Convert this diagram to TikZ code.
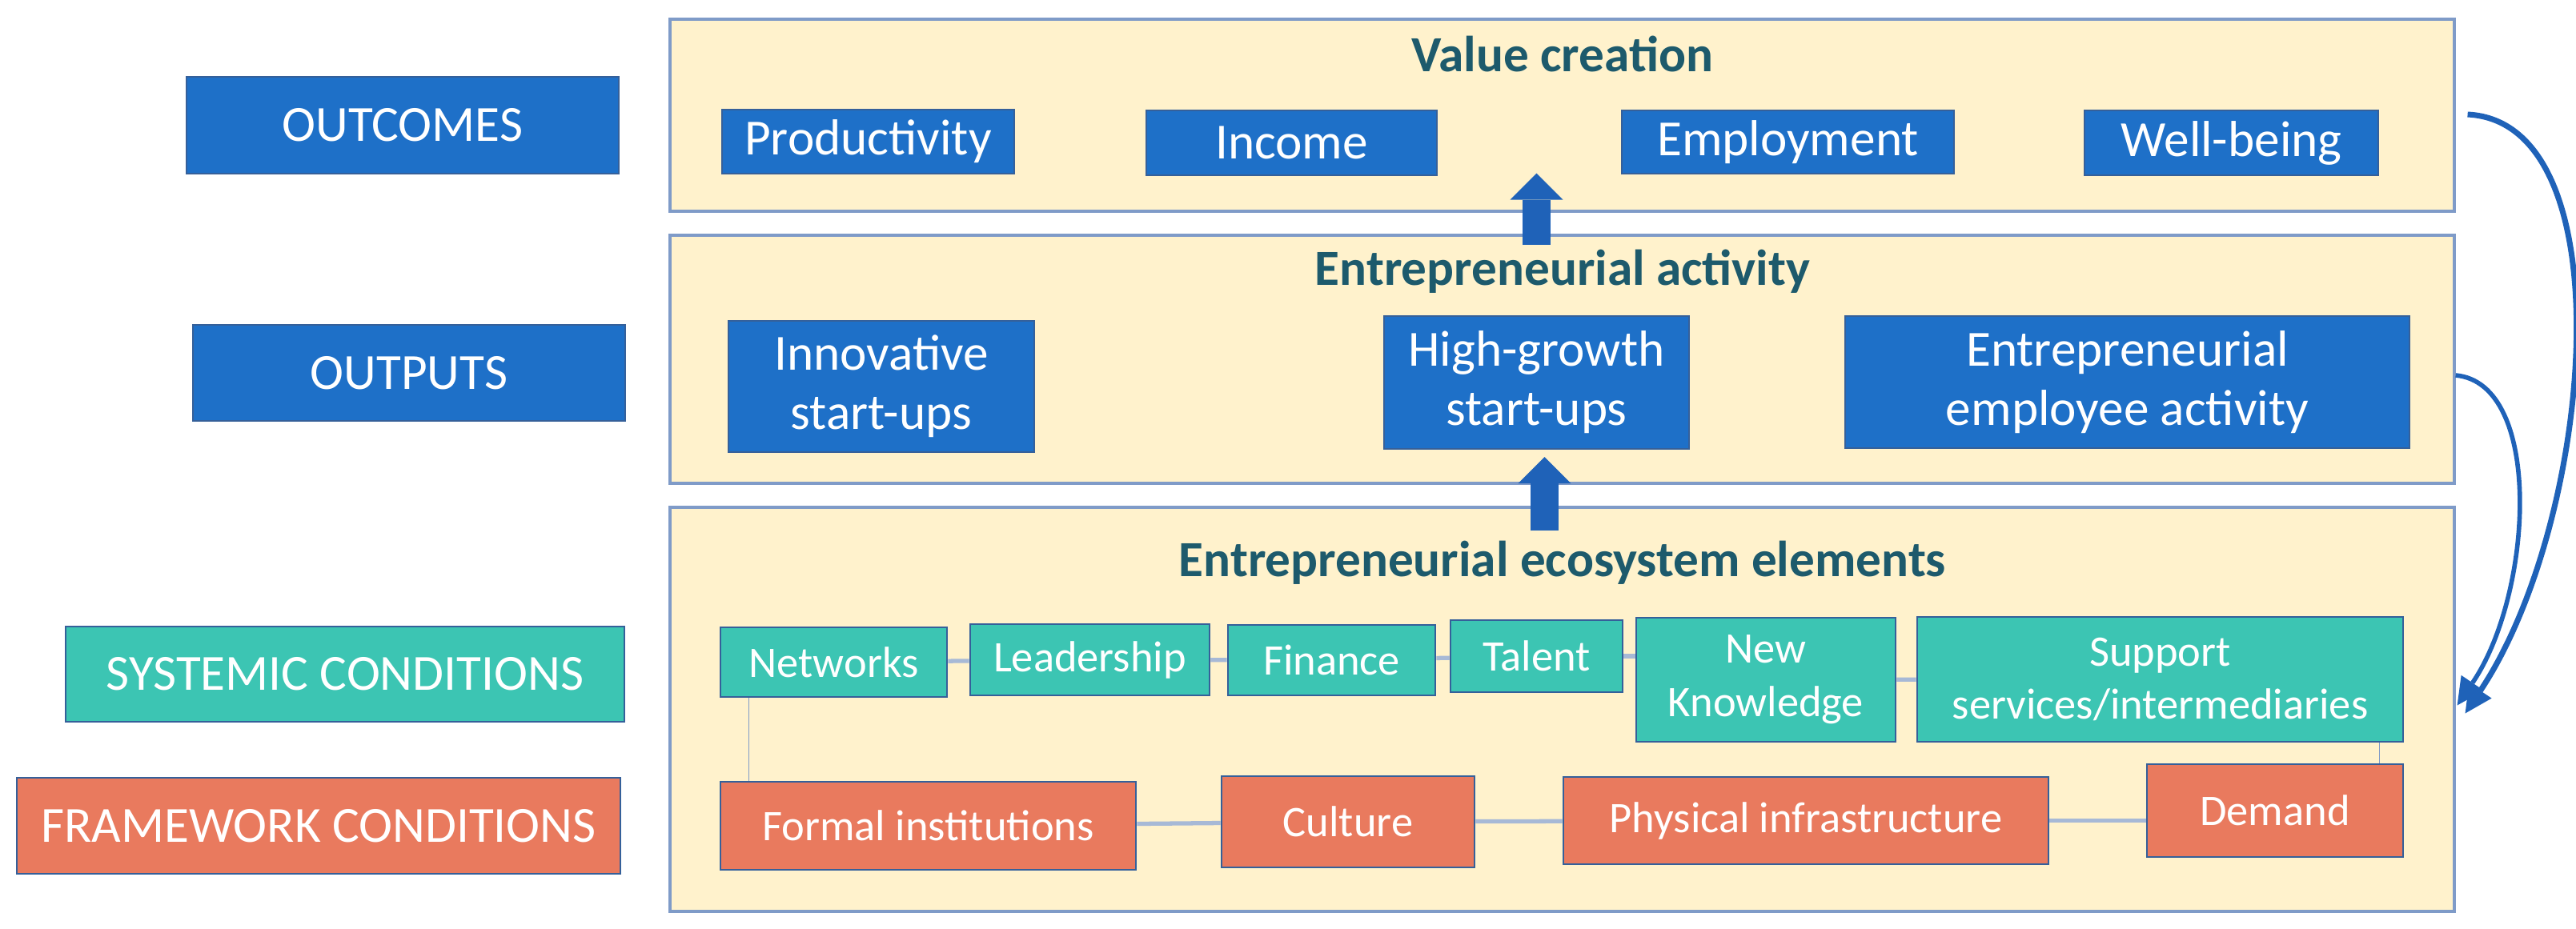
\documentclass[tikz,border=0pt]{standalone}
\usepackage{fontspec}
\setmainfont{Carlito}
\usetikzlibrary{calc,arrows.meta}

\definecolor{boxblue}{HTML}{1E70C8}
\definecolor{boxteal}{HTML}{3CC5B3}
\definecolor{boxsalmon}{HTML}{E97A5E}
\definecolor{boxline}{HTML}{35609A}
\definecolor{panelfill}{HTML}{FFF2CC}
\definecolor{panelline}{HTML}{7F9BC8}
\definecolor{headtext}{HTML}{1D5A6C}
\definecolor{linkgray}{HTML}{A7B9D6}
\definecolor{arrowblue}{HTML}{1F62B8}

\begin{document}
\begin{tikzpicture}[
	panel/.style={draw=panelline, line width=0.9pt, fill=panelfill, minimum width=22.29cm, inner sep=0pt},
	label/.style={text=white, inner sep=0pt, align=center, font=\fontsize{18}{21}\selectfont},
	bluebox/.style={label, fill=boxblue, draw=boxline, line width=0.6pt},
	tealbox/.style={label, fill=boxteal, draw=boxline, line width=0.8pt, font=\fontsize{15.5}{19}\selectfont},
	salmonbox/.style={label, fill=boxsalmon, draw=boxline, line width=0.8pt, font=\fontsize{15.5}{19}\selectfont},
	heading/.style={text=headtext, anchor=base, font=\bfseries\fontsize{18}{21}\selectfont},
	link/.style={draw=linkgray, line width=1.5pt},
	droplink/.style={draw=panelline, line width=0.5pt},
	blockarrow/.style={draw=arrowblue, line width=3.5mm, -{Triangle[width=6.6mm,length=3.3mm,line width=0pt]}},
	feedback/.style={draw=arrowblue, line width=2pt, -{Triangle[width=3.4mm,length=3.4mm,line width=0pt]}}
	]

	\useasboundingbox (0,0) rectangle (32.18,-11.60);

	% levels on the left
	\node[bluebox, minimum width=5.40cm, minimum height=1.21cm] (outcomes) at (5.03,-1.565) {OUTCOMES};
	\node[bluebox, minimum width=5.40cm, minimum height=1.20cm] (outputs) at (5.11,-4.66) {OUTPUTS};
	\node[tealbox, minimum width=6.98cm, minimum height=1.19cm, font=\fontsize{18}{21}\selectfont] (systemic) at (4.31,-8.425) {SYSTEMIC CONDITIONS};
	\node[salmonbox, minimum width=7.54cm, minimum height=1.20cm, font=\fontsize{18}{21}\selectfont] (framework) at (3.98,-10.32) {FRAMEWORK CONDITIONS};

	% panels
	\node[panel, minimum height=2.40cm] (valpanel) at (19.515,-1.44) {};
	\node[panel, minimum height=3.10cm] (actpanel) at (19.515,-4.49) {};
	\node[panel, minimum height=5.05cm] (ecopanel) at (19.515,-8.865) {};

	\node[heading] (valtitle) at (19.52,-0.89) {Value creation};
	\node[heading] (acttitle) at (19.52,-3.56) {Entrepreneurial activity};
	\node[heading] (ecotitle) at (19.52,-7.20) {Entrepreneurial ecosystem elements};

	% value creation
	\node[bluebox, minimum width=3.65cm, minimum height=0.80cm] (prod) at (10.845,-1.77) {Productivity};
	\node[bluebox, minimum width=3.63cm, minimum height=0.81cm] (income) at (16.135,-1.785) {Income};
	\node[bluebox, minimum width=4.15cm, minimum height=0.79cm] (employ) at (22.335,-1.775) {Employment};
	\node[bluebox, minimum width=3.67cm, minimum height=0.81cm] (wellb) at (27.875,-1.785) {Well-being};

	% entrepreneurial activity
	\node[bluebox, minimum width=3.82cm, minimum height=1.64cm] (innov) at (11.01,-4.83) {Innovative\\start-ups};
	\node[bluebox, minimum width=3.81cm, minimum height=1.66cm] (highgr) at (19.195,-4.78) {High-growth\\start-ups};
	\node[bluebox, minimum width=7.05cm, minimum height=1.65cm] (empact) at (26.575,-4.775) {Entrepreneurial\\employee activity};

	% systemic conditions
	\node[tealbox, minimum width=2.83cm, minimum height=0.87cm] (net) at (10.415,-8.275) {Networks};
	\node[tealbox, minimum width=2.99cm, minimum height=0.89cm] (lead) at (13.615,-8.245) {Leadership};
	\node[tealbox, minimum width=2.59cm, minimum height=0.88cm] (fin) at (16.635,-8.25) {Finance};
	\node[tealbox, minimum width=2.15cm, minimum height=0.90cm] (tal) at (19.195,-8.20) {Talent};
	\node[tealbox, minimum width=3.24cm, minimum height=1.55cm] (know) at (22.06,-8.495) {New\\Knowledge};
	\node[tealbox, minimum width=6.07cm, minimum height=1.56cm] (supp) at (26.985,-8.49) {Support\\services/intermediaries};

	% framework conditions
	\node[salmonbox, minimum width=5.19cm, minimum height=1.10cm] (formal) at (11.595,-10.32) {Formal institutions};
	\node[salmonbox, minimum width=3.16cm, minimum height=1.14cm] (cult) at (16.84,-10.27) {Culture};
	\node[salmonbox, minimum width=6.06cm, minimum height=1.09cm] (phys) at (22.56,-10.255) {Physical infrastructure};
	\node[salmonbox, minimum width=3.20cm, minimum height=1.16cm] (dem) at (28.42,-10.13) {Demand};

	% links between the elements
	\draw[link] (net) -- (lead);
	\draw[link] (lead) -- (fin);
	\draw[link] (fin) -- (tal);
	\draw[link] (tal.east) -- (tal.east -| know.west);
	\draw[link] (know) -- (supp);
	\draw[link] (formal) -- (cult);
	\draw[link] (cult) -- (phys);
	\draw[link] (phys.east) -- (phys.east -| dem.west);
	\coordinate (netdrop) at ($(net.south west)+(0.37,0)$);
	\coordinate (suppdrop) at ($(supp.south east)+(-0.31,0)$);
	\draw[droplink] (netdrop) -- (netdrop |- formal.north);
	\draw[droplink] (suppdrop) -- (suppdrop |- dem.north);

	% arrows up
	\draw[blockarrow] ($(actpanel.north -| highgr.north)+(0,-0.14)$) -- ($(valpanel.south -| highgr.north)+(0,0.49)$);
	\draw[blockarrow] ($(ecopanel.north -| highgr.south)+(0.1,-0.31)$) -- ($(highgr.south)+(0.1,-0.09)$);

	% feedback to the ecosystem
	\draw[feedback] ($(valpanel.east)+(0.15,0.01)$) .. controls +(2.0,-0.1) and +(1.6,2.4) .. ($(ecopanel.east)+(0.12,-0.05)$);
	\draw[feedback, line width=1.6pt] ($(actpanel.east)+(0,-0.2)$) .. controls +(1.1,-0.1) and +(0.95,1.4) .. ($(ecopanel.east)+(0.02,0.05)$);
\end{tikzpicture}
\end{document}
